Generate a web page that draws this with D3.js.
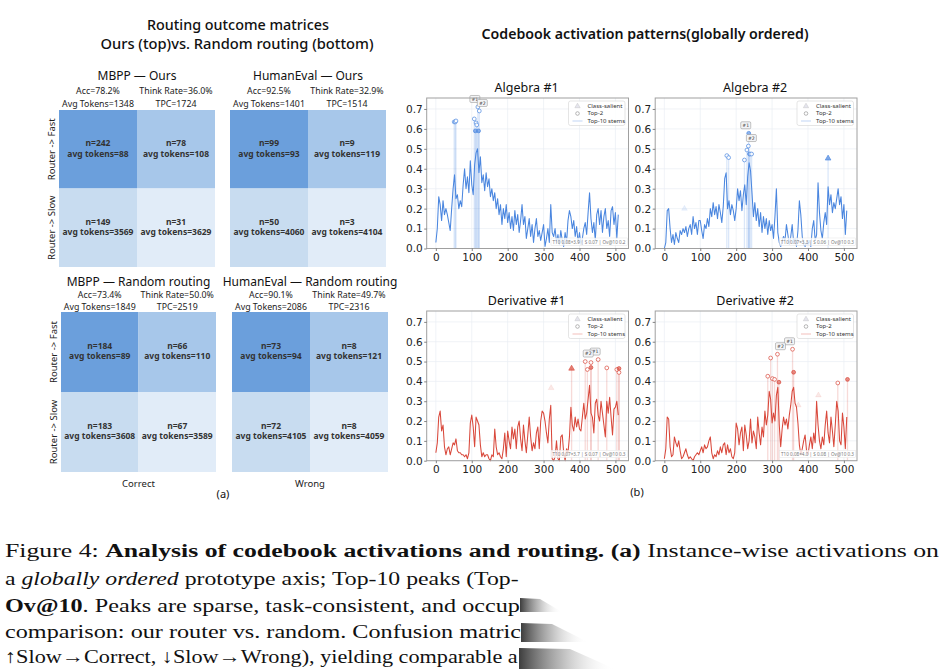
<!DOCTYPE html>
<html><head><meta charset="utf-8">
<script src="https://cdn.jsdelivr.net/npm/d3@7"></script>
<style>body{margin:0;background:#fff}svg{display:block}</style>
</head><body><svg id="c" width="944" height="669"></svg>
<script>
// ---------------- DATA ----------------
const heatTitles = ["MBPP — Ours", "HumanEval — Ours", "MBPP — Random routing", "HumanEval — Random routing"];
const accLabels = ["Acc=78.2%", "Acc=92.5%", "Acc=73.4%", "Acc=90.1%"];
const avgTokLabels = ["Avg Tokens=1348", "Avg Tokens=1401", "Avg Tokens=1849", "Avg Tokens=2086"];
const thinkLabels = ["Think Rate=36.0%", "Think Rate=32.9%", "Think Rate=50.0%", "Think Rate=49.7%"];
const tpcLabels = ["TPC=1724", "TPC=1514", "TPC=2519", "TPC=2316"];
// cells: [Fast/Correct, Fast/Wrong, Slow/Correct, Slow/Wrong]
const cellN = [[242, 78, 149, 31], [99, 9, 50, 3], [184, 66, 183, 67], [73, 8, 72, 8]];
const cellTok = [[88, 108, 3569, 3629], [93, 119, 4060, 4104], [89, 110, 3608, 3589], [94, 121, 4105, 4059]];
const rowLabels = ["Router -> Fast", "Router -> Slow"];
const colLabels = ["Correct", "Wrong"];

const plotTitles = ["Algebra #1", "Algebra #2", "Derivative #1", "Derivative #2"];
const plotNotes = ["T10 0.08×3.9 | S 0.07 | Ov@10 0.2", "T10 0.07×3.3 | S 0.06 | Ov@10 0.3",
                   "T10 0.07×3.7 | S 0.07 | Ov@10 0.3", "T10 0.08×4.0 | S 0.08 | Ov@10 0.3"];
const xTickVals = [0, 100, 200, 300, 400, 500];
const yTickVals = [0, 0.1, 0.2, 0.3, 0.4, 0.5, 0.6, 0.7];
const codeIndex = d3.range(0, 512, 4); // prototype index of each sampled activation

const alg1 = [0.03,0.10,0.26,0.22,0.14,0.24,0.17,0.20,0.17,0.13,0.09,0.20,0.30,0.37,0.25,0.27,
  0.20,0.24,0.21,0.32,0.40,0.30,0.36,0.28,0.44,0.32,0.27,0.42,0.48,0.50,0.38,0.46,
  0.33,0.37,0.29,0.38,0.31,0.35,0.26,0.30,0.24,0.28,0.20,0.25,0.17,0.22,0.12,0.20,
  0.15,0.22,0.13,0.18,0.10,0.16,0.09,0.19,0.12,0.17,0.08,0.14,0.22,0.12,0.16,0.05,
  0.10,0.15,0.06,0.12,0.03,0.10,0.15,0.06,0.09,0.04,0.08,0.12,0.01,0.05,0.10,0.03,
  0.22,0.08,0.06,0.10,0.03,0.07,0.02,0.09,0.04,0.01,0.08,0.03,0.14,0.19,0.16,0.10,
  0.14,0.06,0.11,0.03,0.08,0.02,0.05,0.10,0.13,0.07,0.18,0.28,0.15,0.08,0.13,0.04,
  0.17,0.20,0.12,0.19,0.08,0.16,0.20,0.10,0.14,0.06,0.19,0.21,0.12,0.18,0.05,0.17];
const alg2 = [0.00,0.03,0.19,0.20,0.10,0.03,0.07,0.02,0.08,0.05,0.03,0.09,0.07,0.10,0.08,0.11,
  0.06,0.10,0.12,0.07,0.16,0.10,0.13,0.07,0.14,0.14,0.09,0.05,0.12,0.10,0.15,0.11,
  0.20,0.16,0.23,0.17,0.21,0.15,0.22,0.18,0.13,0.21,0.35,0.38,0.20,0.24,0.17,0.22,
  0.19,0.14,0.20,0.30,0.24,0.29,0.19,0.27,0.32,0.22,0.36,0.43,0.39,0.28,0.16,0.23,
  0.14,0.20,0.11,0.18,0.08,0.16,0.10,0.15,0.07,0.14,0.09,0.12,0.05,0.16,0.30,0.08,
  0.03,0.01,0.04,0.06,0.04,0.12,0.07,0.02,0.06,0.12,0.03,0.05,0.01,0.09,0.24,0.17,
  0.06,0.02,0.01,0.03,0.02,0.04,0.01,0.10,0.14,0.04,0.07,0.33,0.18,0.09,0.05,0.13,
  0.18,0.12,0.31,0.22,0.27,0.18,0.23,0.20,0.25,0.30,0.22,0.26,0.15,0.22,0.07,0.19];
const der1 = [0.04,0.09,0.22,0.25,0.15,0.18,0.07,0.03,0.06,0.07,0.03,0.06,0.09,0.08,0.11,0.05,
  0.04,0.04,0.03,0.03,0.02,0.03,0.01,0.04,0.19,0.23,0.17,0.07,0.22,0.20,0.18,0.08,
  0.02,0.04,0.02,0.03,0.03,0.01,0.00,0.03,0.02,0.16,0.07,0.03,0.04,0.02,0.01,0.06,
  0.14,0.02,0.15,0.10,0.06,0.17,0.11,0.16,0.06,0.17,0.20,0.11,0.05,0.18,0.10,0.04,
  0.13,0.22,0.12,0.05,0.09,0.06,0.14,0.17,0.06,0.20,0.25,0.24,0.20,0.14,0.09,0.21,
  0.28,0.01,0.00,0.02,0.10,0.01,0.00,0.12,0.13,0.04,0.00,0.06,0.04,0.12,0.27,0.18,
  0.15,0.22,0.17,0.21,0.16,0.15,0.22,0.29,0.21,0.24,0.31,0.38,0.24,0.22,0.14,0.29,
  0.31,0.23,0.20,0.30,0.24,0.18,0.12,0.30,0.24,0.32,0.22,0.13,0.26,0.27,0.30,0.23];
const der2 = [0.01,0.06,0.22,0.21,0.07,0.02,0.03,0.12,0.09,0.07,0.10,0.05,0.01,0.02,0.04,0.06,
  0.03,0.01,0.02,0.01,0.00,0.02,0.03,0.04,0.03,0.05,0.07,0.04,0.08,0.06,0.07,0.10,
  0.12,0.04,0.01,0.03,0.02,0.05,0.03,0.07,0.04,0.08,0.09,0.03,0.08,0.04,0.06,0.02,
  0.01,0.04,0.19,0.16,0.08,0.14,0.17,0.05,0.18,0.13,0.06,0.10,0.21,0.09,0.15,0.12,
  0.06,0.22,0.14,0.08,0.17,0.12,0.25,0.18,0.23,0.35,0.31,0.19,0.24,0.20,0.33,0.37,
  0.18,0.07,0.16,0.22,0.18,0.21,0.16,0.23,0.28,0.35,0.37,0.29,0.27,0.19,0.08,0.03,
  0.06,0.10,0.13,0.05,0.03,0.08,0.12,0.06,0.14,0.09,0.30,0.18,0.10,0.06,0.12,0.08,
  0.18,0.25,0.14,0.09,0.22,0.15,0.07,0.18,0.30,0.25,0.10,0.08,0.24,0.17,0.06,0.22];

// top-10 stems: index, marker height, marker kind (c open circle, f filled circle, t triangle)
const alg1StemX = [51, 54, 56, 107, 110, 112, 114, 117, 119, 121];
const alg1StemY = [0.635, 0.635, 0.64, 0.65, 0.59, 0.63, 0.62, 0.71, 0.59, 0.69];
const alg1StemK = ["c","c","c","c","f","c","c","c","f","c"];
const alg1Rank = [7, 9];
const alg2StemX = [174, 179, 223, 230, 234, 235, 237, 239, 243, 456];
const alg2StemY = [0.466, 0.456, 0.444, 0.494, 0.514, 0.578, 0.474, 0.474, 0.474, 0.452];
const alg2StemK = ["c","c","c","c","c","f","f","c","c","t"];
const alg2Rank = [5, 4];
const der1StemX = [378, 416, 422, 432, 432, 452, 476, 504, 510, 510];
const der1StemY = [0.465, 0.50, 0.46, 0.495, 0.47, 0.51, 0.468, 0.46, 0.465, 0.445];
const der1StemK = ["t","c","c","c","f","c","c","c","f","c"];
const der1Rank = [5, 1];
const der2StemX = [288, 296, 301, 307, 315, 319, 357, 360, 483, 510];
const der2StemY = [0.426, 0.518, 0.414, 0.41, 0.537, 0.396, 0.562, 0.446, 0.392, 0.41];
const der2StemK = ["c","c","c","c","c","f","c","f","c","f"];
const der2Rank = [6, 4];
// faint class-salient markers
const alg1SalX = [], alg1SalY = [];
const alg2SalX = [56], alg2SalY = [0.20];
const der1SalX = [321], der1SalY = [0.367];
const der2SalX = [373, 429], der2SalY = [0.28, 0.33];

// ---------------- DRAW ----------------
const svg = d3.select("#c");
const SANS = "'Noto Sans','DejaVu Sans',sans-serif";
const DJ = "'DejaVu Sans',sans-serif";

// Left panel titles
svg.append("text").attr("x", 238).attr("y", 26).attr("text-anchor","middle").attr("dominant-baseline","middle")
  .style("font", `500 14px ${SANS}`).attr("fill","#111").attr("textLength",182).attr("lengthAdjust","spacingAndGlyphs")
  .text("Routing outcome matrices");
svg.append("text").attr("x", 237).attr("y", 45).attr("text-anchor","middle").attr("dominant-baseline","middle")
  .style("font", `500 14px ${SANS}`).attr("fill","#111").attr("textLength",273).attr("lengthAdjust","spacingAndGlyphs")
  .text("Ours (top)vs. Random routing (bottom)");

const heatBox = [
  {x:59, y:110, w:156, h:157, ty:77, ay:91.5, by:104.5},
  {x:230, y:110, w:156, h:157, ty:77, ay:91.5, by:104.5},
  {x:61, y:312, w:155, h:160, ty:282.5, ay:295.5, by:307.5},
  {x:232, y:312, w:156, h:160, ty:282.5, ay:295.5, by:307.5}
];
const cellShade = ["#6b9fdc", "#a7c7ea", "#c8dcf0", "#e1ecf8"];

heatBox.forEach((b, i) => {
  const g = svg.append("g");
  const xb = d3.scaleBand().domain([0,1]).range([b.x, b.x + b.w]);
  const yb = d3.scaleBand().domain([0,1]).range([b.y, b.y + b.h]);
  const cells = cellN[i].map((n, k) => ({n, tok: cellTok[i][k], r: Math.floor(k/2), c: k%2, k}));
  g.selectAll("rect").data(cells).join("rect")
    .attr("x", d => xb(d.c)).attr("y", d => yb(d.r))
    .attr("width", xb.bandwidth()).attr("height", yb.bandwidth())
    .attr("fill", d => cellShade[d.k]);
  g.selectAll("text.n").data(cells).join("text").attr("class","n")
    .attr("x", d => xb(d.c) + xb.bandwidth()/2).attr("y", d => yb(d.r) + yb.bandwidth()/2 - 5.5)
    .attr("text-anchor","middle").attr("dominant-baseline","middle")
    .style("font", `bold 8.5px ${SANS}`).attr("fill","#333").text(d => "n=" + d.n);
  g.selectAll("text.t").data(cells).join("text").attr("class","t")
    .attr("x", d => xb(d.c) + xb.bandwidth()/2).attr("y", d => yb(d.r) + yb.bandwidth()/2 + 5)
    .attr("text-anchor","middle").attr("dominant-baseline","middle")
    .style("font", `bold 8.5px ${SANS}`).attr("fill","#333").text(d => "avg tokens=" + d.tok);
  // titles
  g.append("text").attr("x", b.x + b.w/2).attr("y", b.ty).attr("text-anchor","middle").attr("dominant-baseline","middle")
    .style("font", `12px ${SANS}`).attr("fill","#111").text(heatTitles[i]);
  const c0 = xb(0) + xb.bandwidth()/2, c1 = xb(1) + xb.bandwidth()/2;
  [[c0, b.ay, accLabels[i]], [c0, b.by, avgTokLabels[i]], [c1, b.ay, thinkLabels[i]], [c1, b.by, tpcLabels[i]]]
    .forEach(([x, y, t]) => g.append("text").attr("x", x).attr("y", y).attr("text-anchor","middle")
      .attr("dominant-baseline","middle").style("font", `8.8px ${SANS}`).attr("fill","#222").text(t));
  if (i % 2 === 0) {
    rowLabels.forEach((t, r) => {
      const cy = yb(r) + yb.bandwidth()/2;
      g.append("text").attr("transform", `translate(${b.x - 7},${cy}) rotate(-90)`)
        .attr("text-anchor","middle").attr("dominant-baseline","middle")
        .style("font", `9.5px ${SANS}`).attr("fill","#222").text(t);
    });
  }
  if (i >= 2) {
    g.append("text").attr("x", b.x + b.w/2).attr("y", 484).attr("text-anchor","middle").attr("dominant-baseline","middle")
      .style("font", `9.5px ${SANS}`).attr("fill","#222").text(colLabels[i-2]);
  }
});
svg.append("text").attr("x", 223).attr("y", 495).attr("text-anchor","middle").attr("dominant-baseline","middle")
  .style("font", `11px ${SANS}`).attr("fill","#111").text("(a)");

// Right panel
svg.append("text").attr("x", 645).attr("y", 35).attr("text-anchor","middle").attr("dominant-baseline","middle")
  .style("font", `600 14px ${SANS}`).attr("fill","#111").attr("textLength",327).attr("lengthAdjust","spacingAndGlyphs")
  .text("Codebook activation patterns(globally ordered)");
svg.append("text").attr("x", 637).attr("y", 493).attr("text-anchor","middle").attr("dominant-baseline","middle")
  .style("font", `11px ${SANS}`).attr("fill","#111").text("(b)");

const BLUE = "#4a86df", RED = "#d9483b";
const plots = [
  {vals: alg1, sx: alg1StemX, sy: alg1StemY, sk: alg1StemK, rank: alg1Rank, salX: alg1SalX, salY: alg1SalY, col: BLUE, L:426.7, R:628.5, T:98, B:248.5},
  {vals: alg2, sx: alg2StemX, sy: alg2StemY, sk: alg2StemK, rank: alg2Rank, salX: alg2SalX, salY: alg2SalY, col: BLUE, L:655.2, R:857, T:98, B:248.5},
  {vals: der1, sx: der1StemX, sy: der1StemY, sk: der1StemK, rank: der1Rank, salX: der1SalX, salY: der1SalY, col: RED, L:426.7, R:628.5, T:311, B:460.7},
  {vals: der2, sx: der2StemX, sy: der2StemY, sk: der2StemK, rank: der2Rank, salX: der2SalX, salY: der2SalY, col: RED, L:655.2, R:857, T:311, B:460.7}
];

plots.forEach((p, pi) => {
  const x = d3.scaleLinear().domain([-25.5, 536.5]).range([p.L, p.R]);
  const y = d3.scaleLinear().domain([0, 0.755]).range([p.B, p.T]);
  const g = svg.append("g");
  g.append("rect").attr("x", p.L).attr("y", p.T).attr("width", p.R - p.L).attr("height", p.B - p.T).attr("fill","#fff");
  // grid
  g.selectAll("line.gx").data(xTickVals).join("line").attr("class","gx")
    .attr("x1", d => x(d)).attr("x2", d => x(d)).attr("y1", p.T).attr("y2", p.B)
    .attr("stroke","#e9eef4").attr("stroke-width",0.7);
  g.selectAll("line.gy").data(yTickVals).join("line").attr("class","gy")
    .attr("y1", d => y(d)).attr("y2", d => y(d)).attr("x1", p.L).attr("x2", p.R)
    .attr("stroke","#e9eef4").attr("stroke-width",0.7);
  // stems
  const stems = p.sx.map((sx, k) => ({x: sx, y: p.sy[k], k: p.sk[k], i: k}));
  g.selectAll("line.stem").data(stems).join("line").attr("class","stem")
    .attr("x1", d => x(d.x)).attr("x2", d => x(d.x)).attr("y1", y(0)).attr("y2", d => y(d.y))
    .attr("stroke", p.col).attr("stroke-opacity", 0.2).attr("stroke-width", 1.3);
  // activation line
  const line = d3.line().x((d, i) => x(codeIndex[i])).y(d => y(d));
  g.append("path").datum(p.vals).attr("d", line).attr("fill","none")
    .attr("stroke", p.col).attr("stroke-width", 1.05).attr("stroke-linejoin","round");
  // faint class-salient markers
  const tri = d3.symbol().type(d3.symbolTriangle).size(14);
  p.salX.forEach((sx, k) => g.append("path").attr("d", tri())
    .attr("transform", `translate(${x(sx)},${y(p.salY[k])})`).attr("fill", p.col).attr("fill-opacity", 0.12)
    .attr("stroke", p.col).attr("stroke-opacity", 0.15).attr("stroke-width", 0.5));
  // stem markers
  stems.forEach(d => {
    if (d.k === "t") {
      g.append("path").attr("d", tri()).attr("transform", `translate(${x(d.x)},${y(d.y)})`)
        .attr("fill", p.col).attr("fill-opacity", 0.7).attr("stroke", p.col).attr("stroke-width", 0.6);
    } else {
      g.append("circle").attr("cx", x(d.x)).attr("cy", y(d.y)).attr("r", 1.9)
        .attr("fill", d.k === "f" ? p.col : "#fff").attr("fill-opacity", d.k === "f" ? 0.6 : 0.9)
        .attr("stroke", p.col).attr("stroke-width", 0.7);
    }
  });
  // rank labels
  p.rank.forEach((ri, r) => {
    const s = stems[ri];
    const lx = x(s.x) + (r === 0 ? -3 : 3), ly = y(s.y) - 8;
    g.append("rect").attr("x", lx - 5).attr("y", ly - 3.5).attr("width", 10).attr("height", 7).attr("rx", 1.2)
      .attr("fill", "#f3f4f6").attr("stroke", "#888").attr("stroke-width", 0.5);
    g.append("text").attr("x", lx).attr("y", ly + 0.3).attr("text-anchor","middle").attr("dominant-baseline","middle")
      .style("font", `4.6px ${DJ}`).attr("fill","#333").text("#" + (r + 1));
  });
  // frame
  g.append("rect").attr("x", p.L).attr("y", p.T).attr("width", p.R - p.L).attr("height", p.B - p.T)
    .attr("fill","none").attr("stroke","#a0a0a0").attr("stroke-width", 1);
  // axes
  const ax = g.append("g").attr("transform", `translate(0,${p.B})`)
    .call(d3.axisBottom(x).tickValues(xTickVals).tickSize(2.5).tickPadding(2.5).tickFormat(d3.format("d")));
  const ay = g.append("g").attr("transform", `translate(${p.L},0)`)
    .call(d3.axisLeft(y).tickValues(yTickVals).tickSize(2.5).tickPadding(1.5).tickFormat(d3.format(".1f")));
  [ax, ay].forEach(a => {
    a.select(".domain").remove();
    a.selectAll(".tick line").attr("stroke","#666").attr("stroke-width",0.8);
    a.selectAll(".tick text").style("font", `10.5px ${DJ}`).attr("fill","#222");
  });
  // title
  g.append("text").attr("x", (p.L + p.R)/2 - 1).attr("y", p.T - 9.5).attr("text-anchor","middle").attr("dominant-baseline","middle")
    .style("font", `12.5px ${SANS}`).attr("fill","#111").text(plotTitles[pi]);
  // legend
  const lx = p.R - 60, ly = p.T + 3;
  g.append("rect").attr("x", lx).attr("y", ly).attr("width", 56.5).attr("height", 24.5).attr("rx", 2)
    .attr("fill","#fff").attr("fill-opacity",0.85).attr("stroke","#d4d4d4").attr("stroke-width",0.6);
  g.append("path").attr("d", d3.symbol().type(d3.symbolTriangle).size(12)()).attr("transform", `translate(${lx+9},${ly+5.2})`)
    .attr("fill","#ccd").attr("fill-opacity",0.5).attr("stroke","#bbb").attr("stroke-width",0.4);
  g.append("circle").attr("cx", lx+9).attr("cy", ly+12.5).attr("r", 1.8).attr("fill","none").attr("stroke","#888").attr("stroke-width",0.6);
  g.append("line").attr("x1", lx+4).attr("x2", lx+14).attr("y1", ly+20).attr("y2", ly+20).attr("stroke", p.col).attr("stroke-opacity",0.35).attr("stroke-width",1);
  [["Class-salient", 5.2], ["Top-2", 12.5], ["Top-10 stems", 20]].forEach(([t, dy]) =>
    g.append("text").attr("x", lx + 19).attr("y", ly + dy).attr("dominant-baseline","middle")
      .style("font", `6px ${SANS}`).attr("fill","#333").text(t));
  // note
  const nt = g.append("text").attr("x", p.R - 3).attr("y", p.B - 6).attr("text-anchor","end").attr("dominant-baseline","middle")
    .style("font", `4.8px ${SANS}`).attr("fill","#777").attr("textLength", 73).attr("lengthAdjust","spacingAndGlyphs")
    .text(plotNotes[pi]);
  const bb = nt.node().getBBox();
  g.insert("rect", () => nt.node()).attr("x", bb.x - 1.5).attr("y", bb.y - 0.8).attr("width", bb.width + 3).attr("height", bb.height + 1.6)
    .attr("fill","#fff").attr("fill-opacity",0.8).attr("stroke","#ddd").attr("stroke-width",0.4);
});

// ---------------- CAPTION ----------------
const capLines = [
  [["Figure 4: ", "n"], ["Analysis of codebook activations and routing.", "b"], [" (a)", "b"], [" Instance-wise activations on", "n"]],
  [["a ", "n"], ["globally ordered", "i"], [" prototype axis; Top-10 peaks (Top-", "n"]],
  [["Ov@10", "b"], [". Peaks are sparse, task-consistent, and occup", "n"]],
  [["comparison: our router vs. random. Confusion matric", "n"]],
  [["↑Slow→Correct, ↓Slow→Wrong), yielding comparable a", "n"]]
];
const capY = [557, 585, 612, 638, 663];
const capEnd = [940, 519, 520, 521, 518];
const SERIF = "'Liberation Serif','DejaVu Serif',serif";
capLines.forEach((ln, li) => {
  const t = svg.append("text").attr("x", 0).attr("y", 0).style("font-family", SERIF).style("font-size", "19px").attr("fill","#111");
  ln.forEach(([s, k]) => t.append("tspan").text(s)
    .style("font-weight", k === "b" ? "bold" : "normal").style("font-style", k === "i" ? "italic" : "normal"));
  const w = t.node().getComputedTextLength();
  const sx = (capEnd[li] - 5) / w;
  t.attr("transform", `translate(5,${capY[li]}) scale(${sx},1)`);
});
// occluding smudge
const defs = svg.append("defs");
const gr = defs.append("linearGradient").attr("id","sm").attr("x1","0").attr("x2","1").attr("y1","0").attr("y2","0");
gr.append("stop").attr("offset","0").attr("stop-color","#333").attr("stop-opacity",0.95);
gr.append("stop").attr("offset","0.45").attr("stop-color","#888").attr("stop-opacity",0.55);
gr.append("stop").attr("offset","1").attr("stop-color","#fff").attr("stop-opacity",0);
const smudges = [
  [[520,598],[540,599],[562,612],[520,612]],
  [[521,623],[552,624],[588,642],[521,642]],
  [[519,648],[570,649],[615,669],[519,669]]
];
smudges.forEach(pts => svg.append("path").attr("d", d3.line()(pts) + "Z").attr("fill","url(#sm)"));
</script></body></html>
